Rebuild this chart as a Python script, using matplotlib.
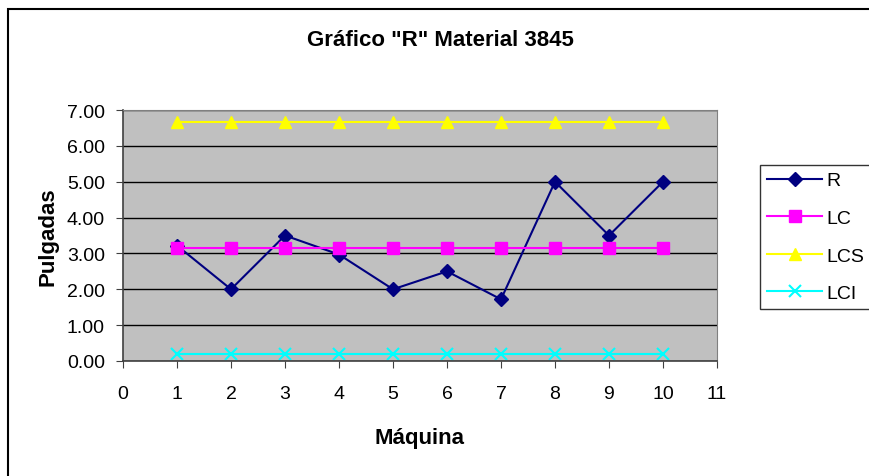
import matplotlib.pyplot as plt
from matplotlib.patches import Rectangle

plt.rcParams['font.family'] = ['Liberation Sans', 'DejaVu Sans']

maquina = [1, 2, 3, 4, 5, 6, 7, 8, 9, 10]
r_vals = [3.22, 2.0, 3.5, 2.97, 2.0, 2.5, 1.72, 5.0, 3.5, 5.0]
lc_vals = [3.16] * 10
lcs_vals = [6.67] * 10
lci_vals = [0.2] * 10

fig = plt.figure(figsize=(8.69, 4.77), dpi=100)

# chart border (Excel style)
fig.patches.append(Rectangle((8 / 869, -0.01), 1.0, 1 - 10 / 477 + 0.01,
                             transform=fig.transFigure, fill=False,
                             edgecolor='black', linewidth=1.5))

ax = fig.add_axes([123 / 869, 1 - 362 / 477, (717 - 123) / 869, (362 - 111) / 477])
ax.set_facecolor('#C0C0C0')

ax.plot(maquina, r_vals, color='#000080', marker='D', markersize=7, lw=1.5, label='R')
ax.plot(maquina, lc_vals, color='#FF00FF', marker='s', markersize=8, lw=1.5, label='LC')
ax.plot(maquina, lcs_vals, color='#FFFF00', marker='^', markersize=9, lw=1.5, label='LCS')
ax.plot(maquina, lci_vals, color='#00FFFF', marker='x', markersize=9, mew=1.5, lw=1.5, label='LCI')

ax.set_xlim(0, 11)
ax.set_ylim(0, 7)
ax.set_xticks(range(0, 12))
ax.set_yticks(range(0, 8))
ax.set_yticklabels([f'{v:.2f}' for v in range(0, 8)])
ax.yaxis.grid(True, color='black', lw=1)
ax.set_axisbelow(True)
ax.tick_params(labelsize=14, length=5, color='#404040')
ax.tick_params(axis='x', pad=12)
ax.tick_params(axis='y', pad=8)

for s in ['top', 'right']:
    ax.spines[s].set_color('#808080')
for s in ['left', 'bottom']:
    ax.spines[s].set_color('#404040')
    ax.spines[s].set_linewidth(1.2)

fig.text(440 / 869, 1 - 40 / 477, 'Gráfico "R" Material 3845', fontsize=16,
         fontweight='bold', ha='center', va='center')
ax.set_xlabel('Máquina', fontsize=16, fontweight='bold', labelpad=18)
ax.set_ylabel('Pulgadas', fontsize=16, fontweight='bold')
ax.yaxis.set_label_coords((59 - 123) / 594, 0.5)

leg = fig.legend(loc='center left', bbox_to_anchor=(760 / 869, 1 - 238 / 477),
                 fontsize=14, frameon=True, fancybox=False, edgecolor='black',
                 borderpad=0.35, labelspacing=1.03, handlelength=2.85,
                 handletextpad=0.2, borderaxespad=0)
leg.get_frame().set_linewidth(1.0)

fig.savefig('out.png', dpi=100)
